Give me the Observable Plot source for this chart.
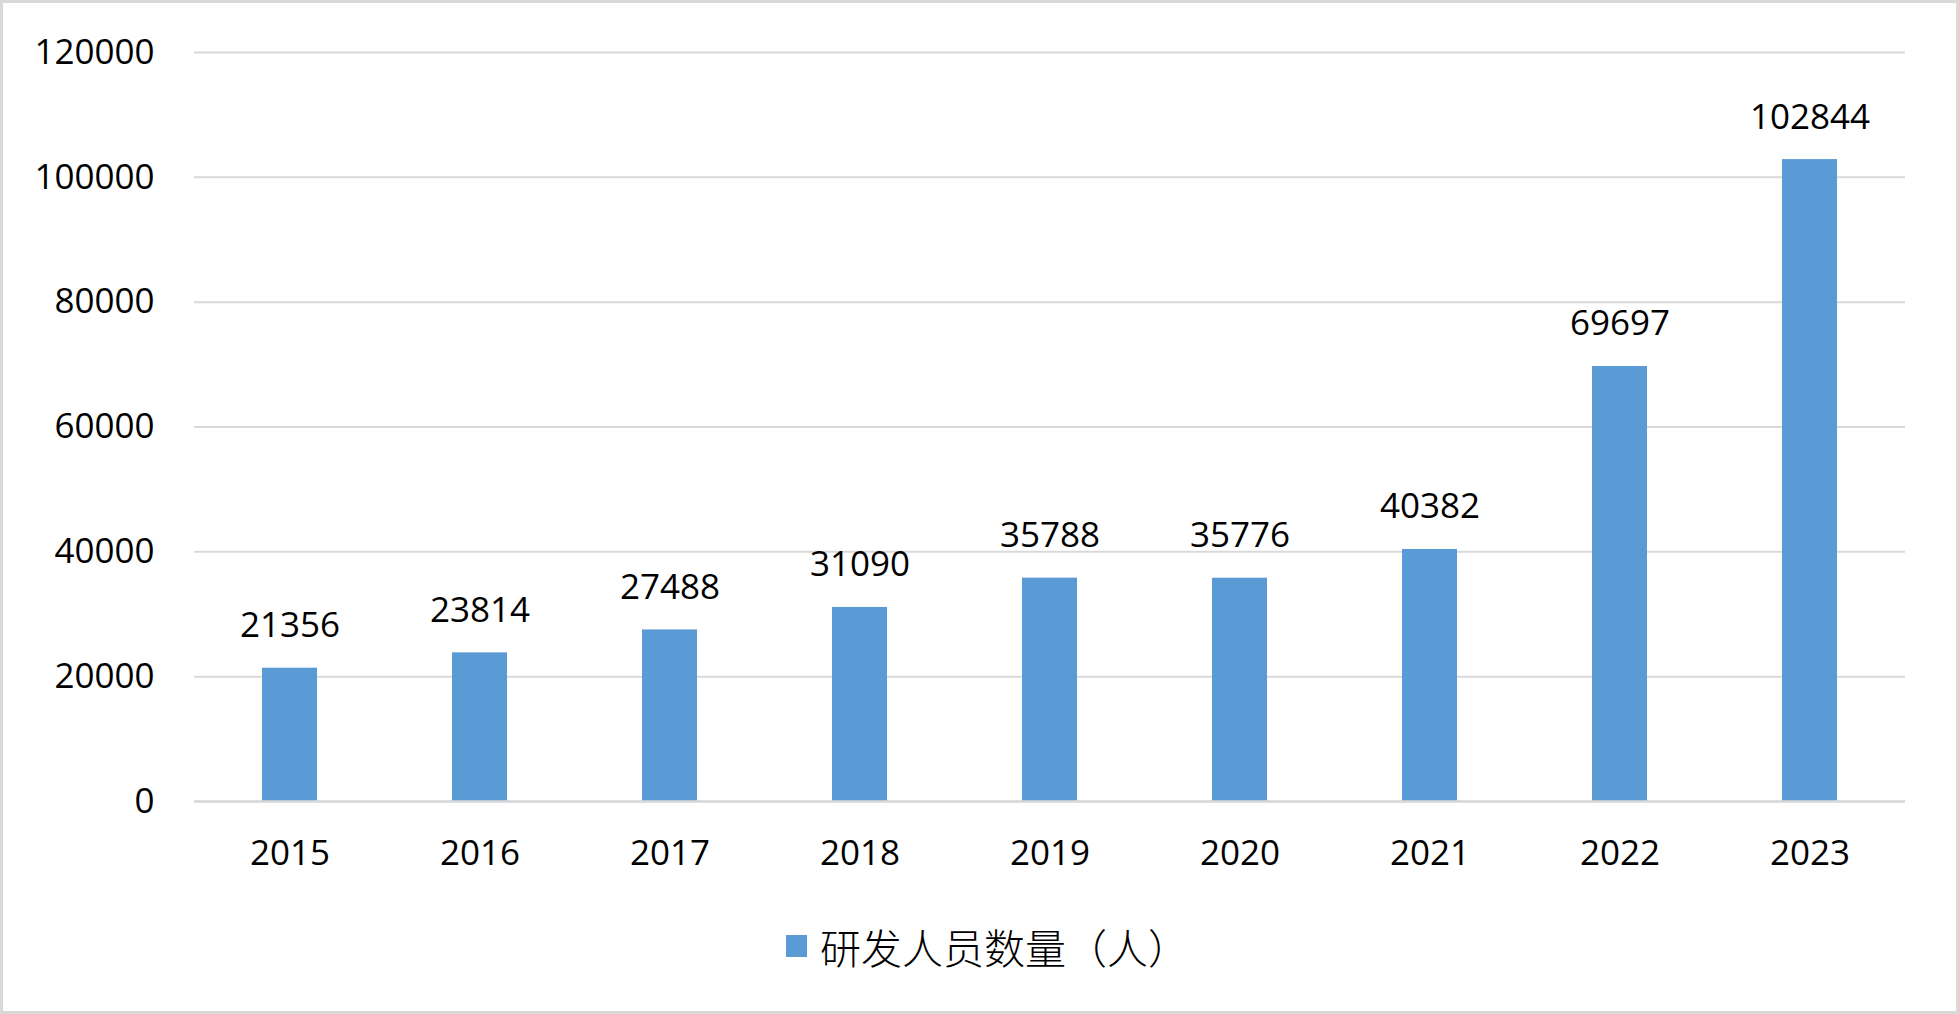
<!DOCTYPE html>
<html>
<head>
<meta charset="utf-8">
<script src="https://cdn.jsdelivr.net/npm/d3@7"></script>
<script src="https://cdn.jsdelivr.net/npm/@observablehq/plot@0.6"></script>
<style>
  html, body { margin: 0; padding: 0; background: #ffffff; }
  #wrap { position: relative; width: 1959px; height: 1014px; background: #fff; overflow: hidden; }
  #chart { position: absolute; left: 0; top: 0; }
  #frame { position: absolute; left: 0; top: 0; width: 1959px; height: 1014px; box-sizing: border-box; border: 3px solid #d9d9d9; pointer-events: none; }
  #legend { position: absolute; left: 786px; top: 925px; height: 42px; display: flex; align-items: center; font-family: "Noto Sans CJK SC", sans-serif; font-weight: 300; font-size: 41px; line-height: 42px; color: #000; }
  #legend .sw { width: 21px; height: 22px; background: #5B9BD5; margin-right: 13px; }
</style>
</head>
<body>
<div id="wrap">
  <div id="chart"></div>
  <div id="legend"><div class="sw"></div><span id="legendLabel"></span></div>
  <div id="frame"></div>
</div>
<script>
const years = ["2015", "2016", "2017", "2018", "2019", "2020", "2021", "2022", "2023"];
const values = [21356, 23814, 27488, 31090, 35788, 35776, 40382, 69697, 102844];
const yTicks = [0, 20000, 40000, 60000, 80000, 100000, 120000];
const seriesName = "研发人员数量（人）";

const data = years.map((y, i) => ({year: y, value: values[i]}));
const barColor = "#5B9BD5";
const gridColor = "#d9d9d9";

const chart = Plot.plot({
  width: 1959,
  height: 900,
  marginLeft: 194,
  marginRight: 54,
  marginTop: 52,
  marginBottom: 99,
  style: {fontFamily: "'Open Sans', sans-serif", fontSize: "35px", color: "#000", background: "transparent"},
  x: {domain: years, paddingInner: 0.71, paddingOuter: 0.355, label: null},
  y: {domain: [0, 120000], label: null},
  marks: [
    Plot.gridY(yTicks, {stroke: gridColor, strokeWidth: 2, strokeOpacity: 1}),
    Plot.barY(data, {x: "year", y: "value", fill: barColor}),
    Plot.ruleY([0], {stroke: gridColor, strokeWidth: 2.5}),
    Plot.axisY(yTicks, {tickSize: 0, tickPadding: 40, tickFormat: d => String(d), fill: "#000"}),
    Plot.axisX({tickSize: 0, tickPadding: 39, fill: "#000"}),
    Plot.text(data, {x: "year", y: "value", text: d => String(d.value), lineAnchor: "bottom", dy: -31, fill: "#000"})
  ]
});
document.getElementById("chart").appendChild(chart);
document.getElementById("legendLabel").textContent = seriesName;
</script>
</body>
</html>
